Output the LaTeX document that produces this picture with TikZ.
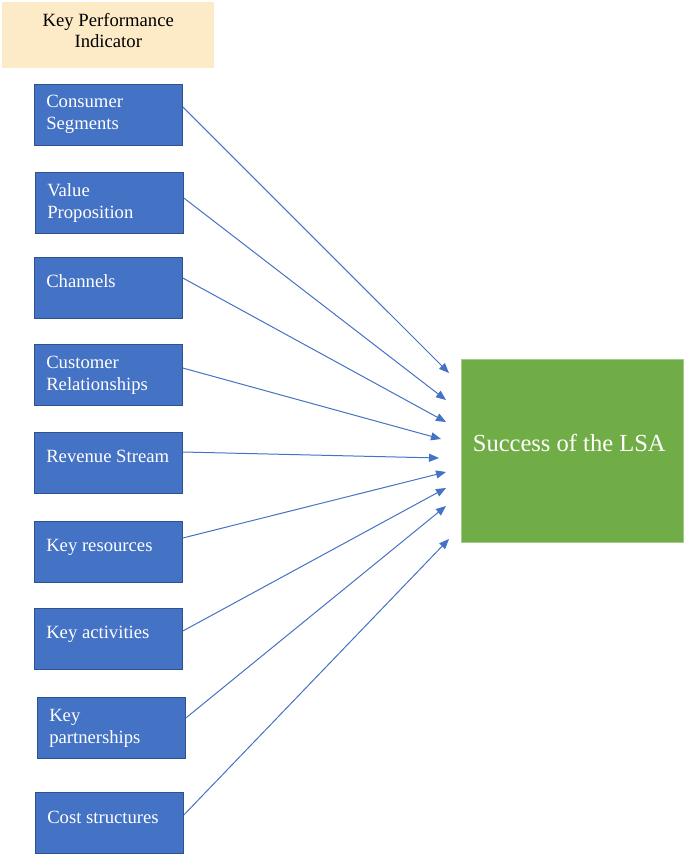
\documentclass[tikz,border=0pt]{standalone}
\usepackage{fontspec}
\setmainfont{Liberation Serif}
\usetikzlibrary{arrows.meta,calc}
\definecolor{kpiblue}{HTML}{4472C4}
\definecolor{kpiedge}{HTML}{2F528F}
\definecolor{kpibeige}{HTML}{FDEBC8}
\definecolor{lsagreen}{HTML}{70AD47}
\definecolor{lsaedge}{HTML}{A3C98B}

\begin{document}
\begin{tikzpicture}[x=0.75pt, y=-0.75pt,
  kpibox/.style={draw=kpiedge, fill=kpiblue, line width=0.6pt, anchor=north west,
    minimum width=111pt, minimum height=45.75pt, inner sep=0pt},
  kpitext/.style={anchor=base west, align=left, text=white, inner sep=0pt,
    font=\fontsize{14}{16.5}\selectfont},
  link/.style={draw=kpiblue, line width=0.75pt, -{Triangle[length=7.5pt, width=6pt]}}]
\useasboundingbox (0,0) rectangle (685,856);
% header
\node[fill=kpibeige, anchor=north west, minimum width=159pt, minimum height=49.5pt,
  inner sep=0pt] (kpi) at (2,2) {};
\node[anchor=base, align=center, inner sep=0pt, font=\fontsize{14}{15.75}\selectfont]
  (kpi-t) at ($(kpi.north)+(0,46)$) {Key Performance\\Indicator};
% the nine building blocks
\node[kpibox] (cs) at (34,84) {};
\node[kpibox] (vp) at (35,172) {};
\node[kpibox] (ch) at (34,257) {};
\node[kpibox] (cr) at (34,344) {};
\node[kpibox] (rs) at (34,432) {};
\node[kpibox] (kr) at (34,521) {};
\node[kpibox] (ka) at (34,608) {};
\node[kpibox] (kp) at (37,697) {};
\node[kpibox] (cst) at (35,792) {};
\node[kpitext] (cs-t) at ($(cs.north west)+(12,45)$) {Consumer\\Segments};
\node[kpitext] (vp-t) at ($(vp.north west)+(12,46)$) {Value\\Proposition};
\node[kpitext] (ch-t) at ($(ch.north west)+(12,30)$) {Channels};
\node[kpitext] (cr-t) at ($(cr.north west)+(12,46)$) {Customer\\Relationships};
\node[kpitext] (rs-t) at ($(rs.north west)+(12,30)$) {Revenue Stream};
\node[kpitext] (kr-t) at ($(kr.north west)+(12,30)$) {Key resources};
\node[kpitext] (ka-t) at ($(ka.north west)+(12,30)$) {Key activities};
\node[kpitext] (kp-t) at ($(kp.north west)+(12,46)$) {Key\\partnerships};
\node[kpitext] (cst-t) at ($(cst.north west)+(12,31)$) {Cost structures};
% outcome
\node[draw=lsaedge, fill=lsagreen, anchor=north west, minimum width=166.5pt,
  minimum height=137.25pt, inner sep=0pt] (lsa) at (461,359) {};
\node[anchor=base, text=white, inner sep=0pt, font=\fontsize{18.4}{22}\selectfont]
  (lsa-t) at ($(lsa.north)+(-3,92)$) {Success of the LSA};
% links
\draw[link] ($(cs.north east)+(0,23)$) -- ($(lsa.north west)+(-12,14)$);
\draw[link] ($(vp.north east)+(0,26)$) -- ($(lsa.north west)+(-15,41)$);
\draw[link] ($(ch.north east)+(0,21)$) -- ($(lsa.north west)+(-15,63)$);
\draw[link] ($(cr.north east)+(0,24)$) -- ($(lsa.north west)+(-20,80)$);
\draw[link] ($(rs.north east)+(0,20)$) -- ($(lsa.north west)+(-22,99)$);
\draw[link] ($(kr.north east)+(0,17)$) -- ($(lsa.north west)+(-15,113)$);
\draw[link] ($(ka.north east)+(0,23)$) -- ($(lsa.north west)+(-15,129)$);
\draw[link] ($(kp.north east)+(0,21)$) -- ($(lsa.north west)+(-15,147)$);
\draw[link] ($(cst.north east)+(0,23)$) -- ($(lsa.north west)+(-12,180)$);
\end{tikzpicture}
\end{document}
